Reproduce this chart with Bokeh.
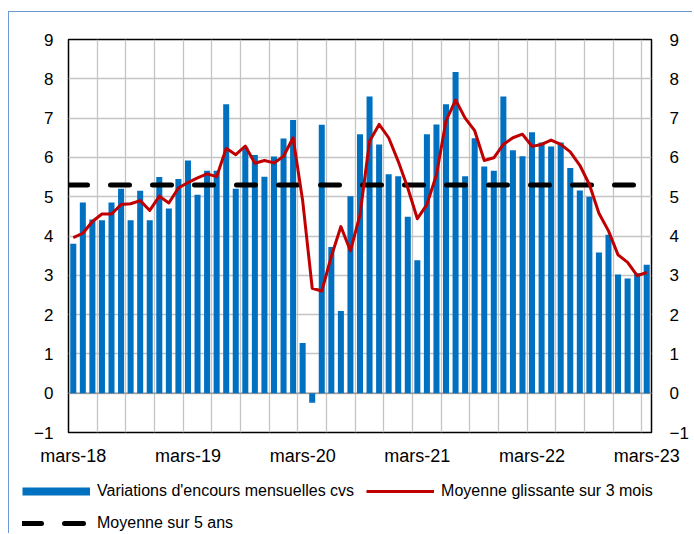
from bokeh.plotting import figure
from bokeh.models import Range1d, LinearAxis, FixedTicker, Legend, LegendItem, Span
from bokeh.embed import file_html
from bokeh.resources import INLINE

# Variations d'encours mensuelles cvs (mars-18 .. mars-23)
bars = [3.8, 4.85, 4.42, 4.4, 4.85, 5.2, 4.4, 5.15, 4.4, 5.5, 4.7, 5.45,
        5.92, 5.05, 5.66, 5.66, 7.35, 5.2, 6.25, 6.06, 5.51, 6.02, 6.48, 6.95,
        1.28, -0.24, 6.83, 3.72, 2.09, 5.01, 6.59, 7.55, 6.33, 5.57, 5.52, 4.49,
        3.38, 6.59, 6.84, 7.35, 8.17, 5.52, 6.49, 5.77, 5.66, 7.55, 6.18, 6.03,
        6.64, 6.38, 6.28, 6.38, 5.73, 5.16, 5.0, 3.58, 4.03, 3.02, 2.92, 3.05,
        3.27]
# Moyenne glissante sur 3 mois
moving_avg = [3.96, 4.07, 4.37, 4.56, 4.56, 4.8, 4.82, 4.9, 4.65, 5.01, 4.84, 5.22,
              5.36, 5.48, 5.58, 5.51, 6.23, 6.07, 6.29, 5.85, 5.92, 5.86, 6.03, 6.5,
              4.9, 2.67, 2.6, 3.48, 4.24, 3.62, 4.54, 6.41, 6.84, 6.5, 5.9, 5.22,
              4.44, 4.8, 5.56, 6.93, 7.46, 7.0, 6.68, 5.92, 5.99, 6.33, 6.5, 6.59,
              6.28, 6.33, 6.44, 6.33, 6.14, 5.8, 5.31, 4.58, 4.13, 3.52, 3.33, 2.99,
              3.07]
# Moyenne sur 5 ans
avg_5y = 5.3

tick_labels = ["mars-18", "mars-19", "mars-20", "mars-21", "mars-22", "mars-23"]
tick_positions = [0, 12, 24, 36, 48, 60]
y_ticks = [-1, 0, 1, 2, 3, 4, 5, 6, 7, 8, 9]

BLUE = "#0070C0"
RED = "#C00000"
GRID = "#C4C4C4"
FONT = "Liberation Sans"
FRAME_BORDER = "1px solid #6B9AD9"

n = len(bars)
xs = list(range(n))

p = figure(width=684, height=460, output_backend="svg", toolbar_location=None,
           x_range=Range1d(-0.5, n - 0.5), y_range=Range1d(y_ticks[0], y_ticks[-1]),
           min_border_left=59, min_border_right=42, min_border_top=27,
           min_border_bottom=40)
p.styles = {"border-top": FRAME_BORDER, "border-left": FRAME_BORDER,
            "margin-top": "11px", "margin-left": "8px"}

p.outline_line_color = "black"
p.outline_line_width = 1.5
p.background_fill_color = "white"
p.border_fill_color = "white"

# grids
p.xgrid.ticker = FixedTicker(ticks=[k - 0.5 for k in range(3, n, 3)])
p.xgrid.grid_line_color = GRID
p.xgrid.grid_line_width = 1.3
p.ygrid.ticker = FixedTicker(ticks=y_ticks)
p.ygrid.grid_line_color = GRID
p.ygrid.grid_line_width = 1.3
p.add_layout(Span(location=0, dimension="width", line_color="#9A9A9A",
                  line_width=1.5, level="underlay"))

# axes
p.xaxis.ticker = FixedTicker(ticks=tick_positions)
p.xaxis.major_label_overrides = {t: l for t, l in zip(tick_positions, tick_labels)}
p.xaxis.major_label_text_font = FONT
p.xaxis.major_label_text_font_size = "18px"
p.xaxis.major_label_text_color = "black"
p.xaxis.major_label_standoff = 13
p.xaxis.axis_line_color = None
p.xaxis.major_tick_line_color = None
p.xaxis.minor_tick_line_color = None
p.xaxis.major_tick_out = 0
p.xaxis.major_tick_in = 0

def style_y(ax, standoff):
    ax.ticker = FixedTicker(ticks=y_ticks)
    ax.major_label_text_font = FONT
    ax.major_label_text_font_size = "17px"
    ax.major_label_text_color = "black"
    ax.major_label_standoff = standoff
    ax.axis_line_color = None
    ax.major_tick_line_color = None
    ax.minor_tick_line_color = None
    ax.major_tick_out = 0
    ax.major_tick_in = 0

style_y(p.yaxis[0], 15)
right_axis = LinearAxis()
style_y(right_axis, 18)
p.add_layout(right_axis, "right")

# data
r_bars = p.vbar(x=xs, top=bars, bottom=0, width=0.63, fill_color=BLUE, line_color=None)
r_avg = p.line(x=[p.x_range.start, p.x_range.end], y=[avg_5y, avg_5y],
               line_color="black", line_width=5, line_dash="19 23", line_cap="round")
r_ma = p.line(x=xs, y=moving_avg, line_color=RED, line_width=3, line_join="round")

# legend area (separate small figure holding the legend)
lf = figure(width=684, height=62, output_backend="svg", toolbar_location=None,
            x_range=Range1d(0, 1), y_range=Range1d(0, 1),
            x_axis_type=None, y_axis_type=None,
            min_border=0, min_border_left=0, min_border_right=0,
            min_border_top=0, min_border_bottom=0)
lf.styles = {"border-left": FRAME_BORDER, "margin-left": "8px"}
lf.grid.visible = False
lf.outline_line_color = None
lf.background_fill_color = "white"
lf.border_fill_color = "white"

nan = float("nan")
bar_proxy = lf.line(x=[nan], y=[nan], line_color=BLUE, line_width=8)
ma_proxy = lf.line(x=[nan], y=[nan], line_color=RED, line_width=3)
avg_proxy = lf.line(x=[nan], y=[nan], line_color="black", line_width=5,
                    line_dash="19 23", line_cap="round")

def make_legend(items, loc):
    return Legend(items=items, location=loc, orientation="horizontal",
                  padding=0, margin=0, spacing=12, label_standoff=7,
                  glyph_width=68, glyph_height=20, label_height=20,
                  label_text_font=FONT, label_text_font_size="16px",
                  label_text_color="black", border_line_color=None,
                  background_fill_alpha=0)

legend_a = make_legend([
    LegendItem(label="Variations d'encours mensuelles cvs", renderers=[bar_proxy]),
    LegendItem(label="Moyenne glissante sur 3 mois", renderers=[ma_proxy]),
], (13, 32))
legend_b = make_legend([
    LegendItem(label="Moyenne sur 5 ans", renderers=[avg_proxy]),
], (13, 0))
lf.add_layout(legend_a)
lf.add_layout(legend_b)

open("out.html", "w").write(file_html([p, lf], INLINE))
